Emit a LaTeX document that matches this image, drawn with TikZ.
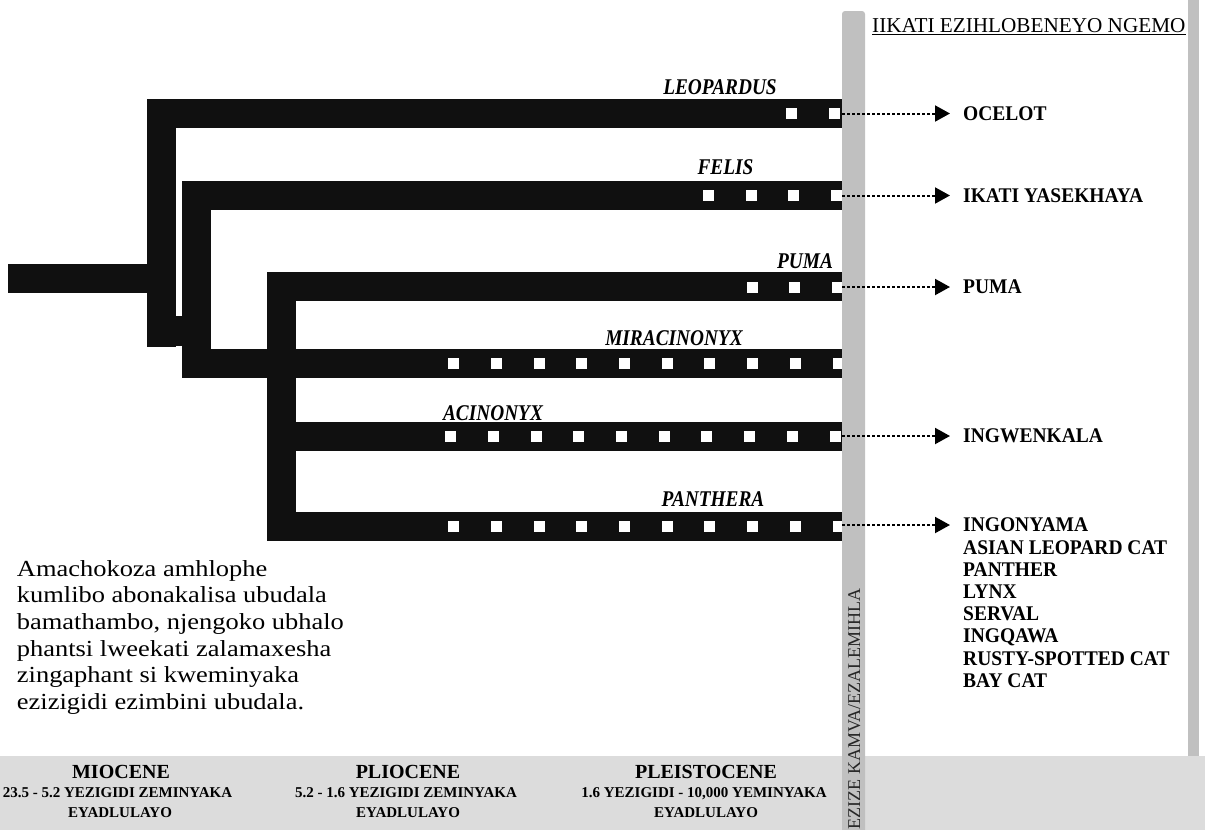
\documentclass[tikz,border=0pt]{standalone}
\usepackage{fontspec}
\setmainfont{Liberation Serif}
\usetikzlibrary{arrows.meta}
\definecolor{barblack}{HTML}{101010}
\definecolor{bargray}{HTML}{C0C0C0}
\definecolor{bandgray}{HTML}{DCDCDC}
\tikzset{
  branch/.style={fill=barblack, draw=none},
  sq/.style={rectangle, fill=white, draw=none, minimum size=11pt, inner sep=0pt},
  genus/.style={font=\fontsize{21}{24}\selectfont\bfseries\itshape, inner sep=0pt, text height=13.9pt, text depth=0pt, xscale=0.92, yscale=1.07},
  species/.style={font=\fontsize{19.5}{22}\selectfont\bfseries, inner sep=0pt, text height=12.9pt, text depth=0pt, anchor=west, yscale=1.07},
  epoch/.style={font=\fontsize{20}{24}\selectfont\bfseries, inner sep=0pt, text height=13.2pt, text depth=0pt},
  epochsub/.style={font=\fontsize{15}{18}\selectfont\bfseries, inner sep=0pt, text height=9.9pt, text depth=0pt},
  para/.style={font=\fontsize{23}{28}\selectfont, inner sep=0pt, anchor=base west, xscale=1.15},
  link/.style={line width=2pt, dash pattern=on 2.5pt off 2.5pt, -{Triangle[length=15pt,width=16pt]}},
}
\begin{document}
\begin{tikzpicture}[x=1pt,y=-1pt]
\useasboundingbox (0,0) rectangle (1205,830);
% background bands
\fill[bandgray] (0,756) rectangle (1205,830);
\fill[bargray] (1188,0) rectangle (1199,756);
% tree branches
\fill[branch] (8,264) rectangle (148,293);
\fill[branch] (147,99) rectangle (176,347);
\fill[branch] (147,99) rectangle (842,128);
\fill[branch] (175,316) rectangle (211,346);
\fill[branch] (182,181) rectangle (211,378);
\fill[branch] (182,181) rectangle (842,210);
\fill[branch] (182,349) rectangle (842,378);
\fill[branch] (267,272) rectangle (296,541);
\fill[branch] (267,272) rectangle (842,301);
\fill[branch] (267,422) rectangle (842,451);
\fill[branch] (267,512) rectangle (842,541);
% fossil squares
\foreach \k in {0,1} \node[sq] (sqL\k) at ({834-42.7*\k},113.5) {};
\foreach \k in {0,...,3} \node[sq] (sqF\k) at ({836.5-42.7*\k},195.5) {};
\foreach \k in {0,...,2} \node[sq] (sqP\k) at ({837.5-42.7*\k},287) {};
\foreach \k in {0,...,9} \node[sq] (sqM\k) at ({838-42.7*\k},363.5) {};
\foreach \k in {0,...,9} \node[sq] (sqA\k) at ({835-42.7*\k},436) {};
\foreach \k in {0,...,9} \node[sq] (sqN\k) at ({838-42.7*\k},526.5) {};
% present-day bar
\fill[bargray, rounded corners=3pt] (842,840) -- (842,11) -- (865,11) -- (865,840) -- cycle;
\node[rotate=90, anchor=east, font=\fontsize{18}{20}\selectfont, inner sep=0pt, text height=12pt, text depth=0pt, text=black!85] (now) at (854,588) {EZIZE KAMVA/EZALEMIHLA};
% genus labels
\node[genus] (gL) at (720,87) {LEOPARDUS};
\node[genus] (gF) at (725.5,167) {FELIS};
\node[genus] (gP) at (805,261) {PUMA};
\node[genus] (gM) at (674,338) {MIRACINONYX};
\node[genus] (gA) at (493,413) {ACINONYX};
\node[genus] (gN) at (713,499) {PANTHERA};
% title
\node[font=\fontsize{21.2}{24}\selectfont, inner sep=0pt, text height=14pt, text depth=0pt, anchor=west] (title) at (872,25) {IIKATI EZIHLOBENEYO NGEMO};
\draw[line width=1pt] ([yshift=-1.8pt]title.south west) -- ([yshift=-1.8pt]title.south east);
% species labels and arrows
\node[species] (lO) at (963,113.5) {OCELOT};
\node[species] (lI) at (963,195.5) {IKATI YASEKHAYA};
\node[species] (lP) at (963,287) {PUMA};
\node[species] (lW) at (963,436) {INGWENKALA};
\node[species] (lN) at (963,525) {INGONYAMA};
\node[species] (lN2) at (963,547.2) {ASIAN LEOPARD CAT};
\node[species] (lN3) at (963,569.4) {PANTHER};
\node[species] (lN4) at (963,591.6) {LYNX};
\node[species] (lN5) at (963,613.8) {SERVAL};
\node[species] (lN6) at (963,636) {INGQAWA};
\node[species] (lN7) at (963,658.2) {RUSTY-SPOTTED CAT};
\node[species] (lN8) at (963,680.4) {BAY CAT};
\foreach \n/\y in {O/113.5, I/195.5, P/287, W/436, N/525} {
  \coordinate (a\n) at (842,\y);
  \coordinate (b\n) at (950,\y);
  \draw[link] (a\n) -- (b\n);
}
% explanatory paragraph
\node[para] (p1) at (16.7,576) {Amachokoza amhlophe};
\node[para] (p2) at (16.7,602.7) {kumlibo abonakalisa ubudala};
\node[para] (p3) at (16.7,629.4) {bamathambo, njengoko ubhalo};
\node[para] (p4) at (16.7,656.1) {phantsi lweekati zalamaxesha};
\node[para] (p5) at (16.7,682.8) {zingaphant si kweminyaka};
\node[para] (p6) at (16.7,709.5) {ezizigidi ezimbini ubudala.};
% epochs
\node[epoch] (e1) at (121,772) {MIOCENE};
\node[epochsub] (e1a) at (117.5,793) {23.5 - 5.2 YEZIGIDI ZEMINYAKA};
\node[epochsub] (e1b) at (120,813) {EYADLULAYO};
\node[epoch] (e2) at (408,772) {PLIOCENE};
\node[epochsub] (e2a) at (406,793) {5.2 - 1.6 YEZIGIDI ZEMINYAKA};
\node[epochsub] (e2b) at (408,813) {EYADLULAYO};
\node[epoch] (e3) at (706,772) {PLEISTOCENE};
\node[epochsub] (e3a) at (704,793) {1.6 YEZIGIDI - 10,000 YEMINYAKA};
\node[epochsub] (e3b) at (706,813) {EYADLULAYO};
\end{tikzpicture}
\end{document}
